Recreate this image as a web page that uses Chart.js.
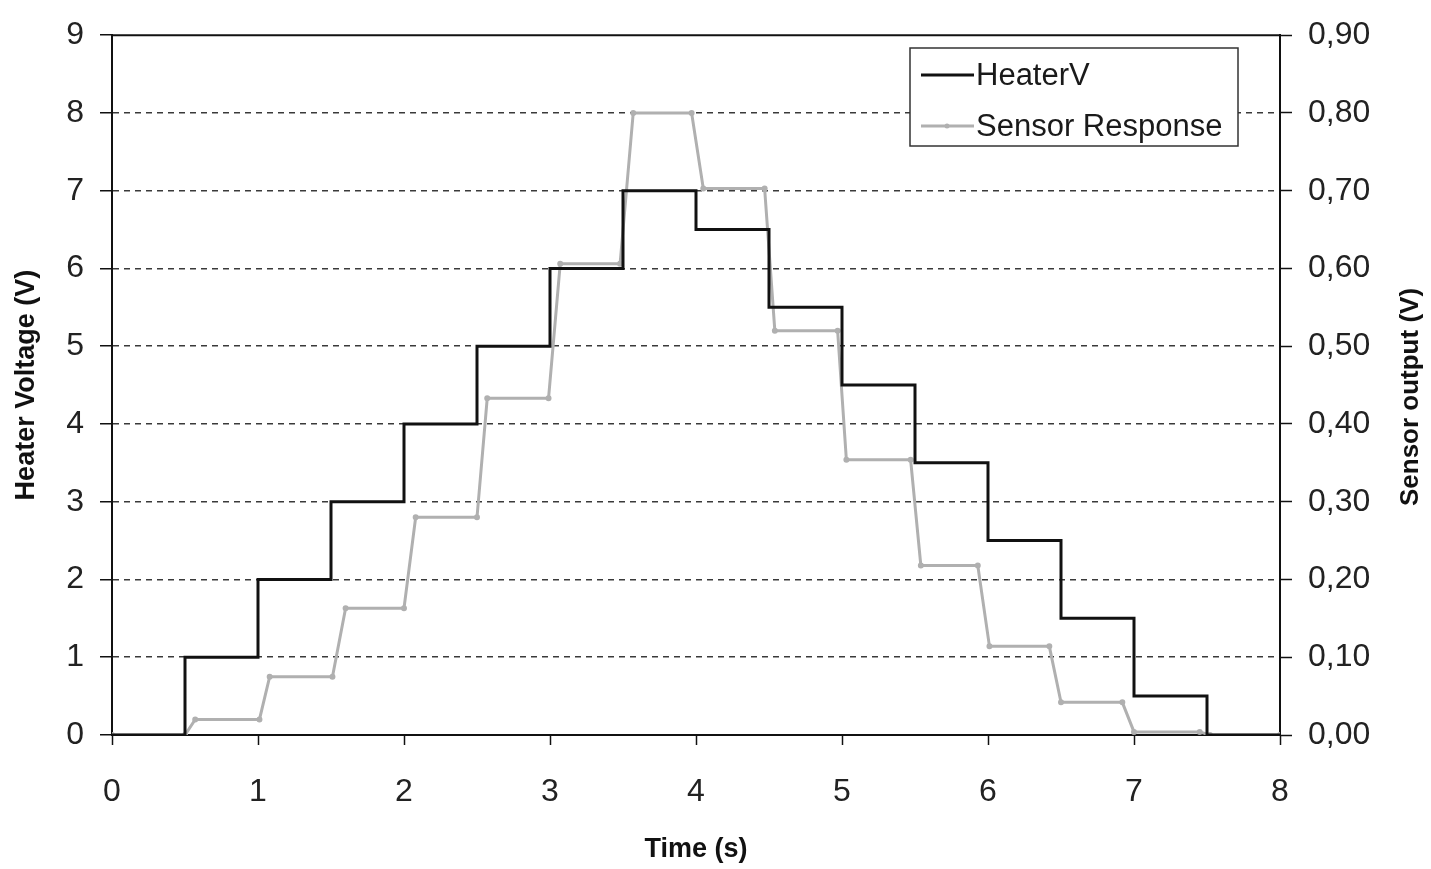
<!DOCTYPE html>
<html>
<head>
<meta charset="utf-8">
<script src="https://cdn.jsdelivr.net/npm/chart.js@4.4.1/dist/chart.umd.min.js"></script>
<style>
  html, body { margin: 0; padding: 0; background: #fff; }
  #wrap { width: 1431px; height: 869px; }
</style>
</head>
<body>
<div id="wrap"><canvas id="c" width="1431" height="869"></canvas></div>
<script>
// ---- data ----
const heaterTimes  = [0, 0.5, 1, 1.5, 2, 2.5, 3, 3.5, 4, 4.5, 5, 5.5, 6, 6.5, 7, 7.5, 8];
const heaterVolts  = [0, 1, 2, 3, 4, 5, 6, 7, 6.5, 5.5, 4.5, 3.5, 2.5, 1.5, 0.5, 0, 0];

const sensorTimes  = [0, 0.50, 0.57, 1.01, 1.08, 1.51, 1.60, 2.00, 2.08, 2.50, 2.57, 2.99, 3.07, 3.48, 3.57, 3.97, 4.05, 4.47, 4.54, 4.97, 5.03, 5.47, 5.54, 5.93, 6.01, 6.42, 6.50, 6.92, 7.00, 7.45, 7.52, 8.00];
const sensorOutput = [0, 0, 0.02, 0.02, 0.075, 0.075, 0.163, 0.163, 0.28, 0.28, 0.433, 0.433, 0.606, 0.606, 0.80, 0.80, 0.703, 0.703, 0.52, 0.52, 0.354, 0.354, 0.218, 0.218, 0.114, 0.114, 0.042, 0.042, 0.004, 0.004, 0, 0];

const xTickLabels     = ['0', '1', '2', '3', '4', '5', '6', '7', '8'];
const leftTickLabels  = ['0', '1', '2', '3', '4', '5', '6', '7', '8', '9'];
const rightTickLabels = ['0,00', '0,10', '0,20', '0,30', '0,40', '0,50', '0,60', '0,70', '0,80', '0,90'];

const seriesNames   = ['HeaterV', 'Sensor Response'];
const xAxisTitle    = 'Time (s)';
const leftAxisTitle = 'Heater Voltage (V)';
const rightAxisTitle = 'Sensor output (V)';

// ---- chart ----
const FONT = '"Liberation Sans", Arial, sans-serif';

const heaterData = heaterTimes.map((t, i) => ({ x: t, y: heaterVolts[i] }));
const sensorData = sensorTimes.map((t, i) => ({ x: t, y: sensorOutput[i] }));

const framePlugin = {
  id: 'frame',
  afterDraw(chart) {
    const { ctx, chartArea: a } = chart;
    ctx.save();
    // top border of plot area
    ctx.strokeStyle = '#111';
    ctx.lineWidth = 2;
    ctx.beginPath();
    ctx.moveTo(a.left, a.top);
    ctx.lineTo(a.right, a.top);
    ctx.stroke();

    // right axis title (reads bottom to top)
    ctx.fillStyle = '#111';
    ctx.font = 'bold 26px ' + FONT;
    ctx.textAlign = 'center';
    ctx.textBaseline = 'middle';
    ctx.translate(1411, 397);
    ctx.rotate(-Math.PI / 2);
    ctx.fillText(rightAxisTitle, 0, 0);
    ctx.restore();

    // legend box
    ctx.save();
    const bx = 910, by = 48, bw = 328, bh = 98;
    ctx.fillStyle = '#fff';
    ctx.fillRect(bx, by, bw, bh);
    ctx.strokeStyle = '#333';
    ctx.lineWidth = 1.5;
    ctx.strokeRect(bx, by, bw, bh);
    ctx.font = '31px ' + FONT;
    ctx.textBaseline = 'middle';
    ctx.textAlign = 'left';
    const rows = [75, 126];
    chart.data.datasets.forEach((ds, i) => {
      const y = rows[i];
      ctx.strokeStyle = ds.borderColor;
      ctx.lineWidth = ds.borderWidth;
      ctx.beginPath();
      ctx.moveTo(921, y);
      ctx.lineTo(974, y);
      ctx.stroke();
      if (i === 1) {
        ctx.fillStyle = ds.borderColor;
        ctx.beginPath();
        ctx.arc(947, y, 2.5, 0, Math.PI * 2);
        ctx.fill();
      }
      ctx.fillStyle = '#1a1a1a';
      ctx.fillText(ds.label, 976, y + 1);
    });
    ctx.restore();
  }
};

new Chart(document.getElementById('c'), {
  type: 'line',
  data: {
    datasets: [
      {
        label: seriesNames[0],
        data: heaterData,
        yAxisID: 'y',
        stepped: 'before',
        borderColor: '#111111',
        borderWidth: 3,
        pointRadius: 0,
        fill: false,
        order: 0
      },
      {
        label: seriesNames[1],
        data: sensorData,
        yAxisID: 'y1',
        borderColor: '#b0b0b0',
        borderWidth: 3,
        pointRadius: 1.5,
        pointBackgroundColor: '#b0b0b0',
        pointBorderColor: '#b0b0b0',
        tension: 0,
        fill: false,
        order: 1
      }
    ]
  },
  options: {
    responsive: false,
    animation: false,
    layout: { padding: { top: 31, left: 0, right: 0, bottom: 0 } },
    plugins: {
      legend: { display: false },
      tooltip: { enabled: false }
    },
    scales: {
      x: {
        type: 'linear',
        min: 0, max: 8,
        afterFit(scale) { scale.height = 134; },
        ticks: {
          stepSize: 1,
          autoSkip: false,
          maxRotation: 0,
          padding: 28,
          color: '#222',
          font: { family: FONT, size: 32 },
          callback: (v, i) => xTickLabels[i]
        },
        grid: {
          drawOnChartArea: false,
          drawTicks: true,
          tickLength: 10,
          tickColor: '#111',
          tickWidth: 1.5
        },
        border: { display: true, color: '#111', width: 2 },
        title: {
          display: true,
          text: xAxisTitle,
          color: '#111',
          font: { family: FONT, size: 27, weight: 'bold' },
          padding: { top: 0, bottom: 3 }
        }
      },
      y: {
        type: 'linear',
        position: 'left',
        min: 0, max: 9,
        afterFit(scale) { scale.width = 112; },
        ticks: {
          stepSize: 1,
          autoSkip: false,
          padding: 16,
          color: '#222',
          font: { family: FONT, size: 32 },
          callback: (v, i) => leftTickLabels[i]
        },
        grid: {
          drawOnChartArea: true,
          drawTicks: true,
          tickLength: 12,
          tickColor: '#111',
          tickWidth: 1.5,
          lineWidth: 1.5,
          color: (ctx) => (ctx.tick && (ctx.tick.value === 0 || ctx.tick.value === 9)) ? 'rgba(0,0,0,0)' : '#3a3a3a'
        },
        border: { display: true, color: '#111', width: 2, dash: [6, 5] },
        title: {
          display: true,
          text: leftAxisTitle,
          color: '#111',
          font: { family: FONT, size: 27, weight: 'bold' },
          padding: { top: 10, bottom: 0 }
        }
      },
      y1: {
        type: 'linear',
        position: 'right',
        min: 0, max: 0.9,
        afterFit(scale) { scale.width = 151; },
        ticks: {
          stepSize: 0.1,
          autoSkip: false,
          padding: 16,
          color: '#222',
          font: { family: FONT, size: 32 },
          callback: (v, i) => rightTickLabels[i]
        },
        grid: {
          drawOnChartArea: false,
          drawTicks: true,
          tickLength: 12,
          tickColor: '#111',
          tickWidth: 1.5
        },
        border: { display: true, color: '#111', width: 2 },
        title: { display: false }
      }
    }
  },
  plugins: [framePlugin]
});
</script>
</body>
</html>
